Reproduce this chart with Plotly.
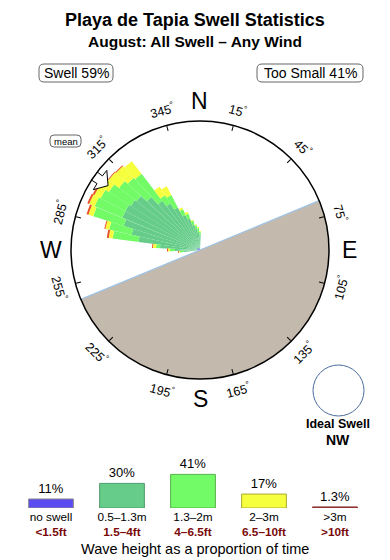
import math
import plotly.graph_objects as go

# ---------------- data ----------------
title_text = "Playa de Tapia Swell Statistics"
subtitle_text = "August: All Swell \u2013 Any Wind"
swell_pct_label = "Swell 59%"
small_pct_label = "Too Small 41%"

# direction bins (degrees, coming-from), 5 degree bins
directions = [265, 270, 275, 280, 285, 290, 295, 300, 305, 310,
              315, 320, 325, 330, 335, 340, 345, 350, 355, 0]
# stacked segment lengths per band (relative frequency units)
no_swell = [0.2, 0.2, 0.3, 0.3, 0.3, 0.3, 0.3, 0.3, 0.3, 0.3,
            0.3, 0.2, 0.2, 0.2, 0.2, 0.2, 0.1, 0.1, 0.1, 0.1]
band_05_13 = [1.4, 2.3, 3.7, 5.9, 6.7, 7.7, 8.1, 8.1, 7.9, 7.7,
              6.9, 6.0, 5.3, 4.6, 3.6, 3.1, 2.5, 2.1, 1.7, 1.4]
band_13_2 = [0.4, 0.5, 0.4, 2.6, 2.3, 3.2, 3.0, 2.8, 2.6, 2.2,
             2.6, 3.4, 1.0, 1.4, 0.6, 0.5, 0.4, 0.3, 0.4, 0.3]
band_2_3 = [0.1, 0.2, 0.3, 0.4, 0.4, 0.5, 0.6, 0.7, 1.0, 1.3,
            1.6, 1.6, 1.0, 1.0, 0.2, 0.2, 0.1, 0.1, 0.1, 0.1]
band_3p = [0.1, 0.1, 0.1, 0.2, 0.1, 0.2, 0.2, 0.2, 0.1, 0.1,
           0.1, 0.0, 0.0, 0.0, 0.0, 0.0, 0.0, 0.0, 0.0, 0.0]
radial_max = 12.9

land_from = 67.5
land_to = 247.5
mean_dir = 305

tick_angles = [15, 45, 75, 105, 135, 165, 195, 225, 255, 285, 315, 345]
cardinals = ["N", "E", "S", "W"]
cardinal_angles = [0, 90, 180, 270]

ideal_label = "Ideal Swell"
ideal_dir = "NW"

legend_names = ["no swell", "0.5\u20131.3m", "1.3\u20132m", "2\u20133m", ">3m"]
legend_feet = ["<1.5ft", "1.5\u20134ft", "4\u20136.5ft", "6.5\u201310ft", ">10ft"]
legend_pct = [11, 30, 41, 17, 1.3]
legend_caption = "Wave height as a proportion of time"

# ---------------- style ----------------
W, H = 390, 560
cx, cy, R = 200, 250, 129
FONT = "Liberation Sans, Arial, sans-serif"
col_blue = "#5b4cf2"
col_dg = "#66cc8a"
col_lg = "#72fb66"
col_yel = "#f6ff3e"
col_red = "#e8532c"
col_land = "#c4b9ad"
col_coast = "#9cc3e6"
band_colors = [col_blue, col_dg, col_lg, col_yel, col_red]
legend_line_colors = ["#8a8a8a", "#4f9a6a", "#55b04a", "#a8a830", "#8b3030"]
legend_fill = [col_blue, col_dg, col_lg, col_yel, "#a03c3c"]

fig = go.Figure()

# land half-disk
fig.add_trace(go.Barpolar(
    r=[radial_max], theta=[(land_from + land_to) / 2], width=[land_to - land_from],
    marker=dict(color=col_land, line=dict(width=0)), showlegend=False, hoverinfo="skip"))
# coastline
fig.add_trace(go.Scatterpolar(
    r=[radial_max, 0, radial_max], theta=[land_from, land_from, land_to],
    mode="lines", line=dict(color=col_coast, width=1.2), showlegend=False, hoverinfo="skip"))

# rose
for vals, c in zip([no_swell, band_05_13, band_13_2, band_2_3, band_3p], band_colors):
    fig.add_trace(go.Barpolar(
        r=vals, theta=directions, width=[5] * len(directions),
        marker=dict(color=c, line=dict(width=0)), showlegend=False))

# mean direction arrow (outline pointer on the rim)
arrow_r = [0.87, 0.95, 0.95, 1.0, 1.0, 0.95, 0.95, 0.87]
arrow_dt = [0, -5.5, -2.2, -2.2, 2.2, 2.2, 5.5, 0]
fig.add_trace(go.Scatterpolar(
    r=[a * radial_max for a in arrow_r], theta=[mean_dir + d for d in arrow_dt],
    mode="lines", fill="toself", fillcolor="white",
    line=dict(color="black", width=1), showlegend=False, hoverinfo="skip"))

fig.update_layout(
    polar=dict(
        domain=dict(x=[(cx - R) / W, (cx + R) / W], y=[(H - cy - R) / H, (H - cy + R) / H]),
        bgcolor="white",
        barmode="stack",
        radialaxis=dict(visible=False, range=[0, radial_max]),
        angularaxis=dict(rotation=90, direction="clockwise", showgrid=False,
                         showline=True, linecolor="black", linewidth=1.5,
                         ticks="inside", ticklen=5, tickcolor="black", tickwidth=1,
                         tickmode="array", tickvals=tick_angles, showticklabels=False),
    )
)

# legend bar chart
fig.add_trace(go.Bar(
    x=legend_names, y=legend_pct, xaxis="x", yaxis="y",
    marker=dict(color=legend_fill, line=dict(color=legend_line_colors, width=1)),
    width=0.63, text=[f"{v:g}%" for v in legend_pct], textposition="outside",
    textfont=dict(size=13, color="black", family=FONT), cliponaxis=False,
    showlegend=False))

ticktext = [f'{n.replace(">", "&gt;")}<br><span style="color:#7a0a0a"><b>{f.replace("<", "&lt;").replace(">", "&gt;")}</b></span>'
            for n, f in zip(legend_names, legend_feet)]
slot = 71
fig.update_layout(
    xaxis=dict(domain=[(51 - slot / 2) / W, (51 + 4.5 * slot) / W], range=[-0.5, 4.5],
               tickmode="array", tickvals=legend_names, ticktext=ticktext,
               showline=False, showgrid=False, zeroline=False, ticks="",
               tickfont=dict(size=11.8, color="black", family=FONT), fixedrange=True),
    yaxis=dict(domain=[(H - 508) / H, (H - 508 + 41) / H], range=[0, 50], visible=False),
)


def A(text, xpx, ypx, size, **kw):
    d = dict(text=text, x=xpx / W, y=1 - ypx / H, xref="paper", yref="paper",
             xanchor="center", yanchor="middle", showarrow=False,
             font=dict(size=size, family=FONT, color="black"))
    d.update(kw)
    return d


def rounded_box(x0, y0, x1, y1, rad=4):
    rx, ry = rad / W, rad / H
    X0, X1 = x0 / W, x1 / W
    Y0, Y1 = 1 - y1 / H, 1 - y0 / H
    p = (f"M {X0 + rx},{Y0} L {X1 - rx},{Y0} Q {X1},{Y0} {X1},{Y0 + ry} "
         f"L {X1},{Y1 - ry} Q {X1},{Y1} {X1 - rx},{Y1} L {X0 + rx},{Y1} "
         f"Q {X0},{Y1} {X0},{Y1 - ry} L {X0},{Y0 + ry} Q {X0},{Y0} {X0 + rx},{Y0} Z")
    return dict(type="path", path=p, xref="paper", yref="paper",
                line=dict(color="#666", width=1), fillcolor="white", layer="below")


ann = []
ann.append(A(f"<b>{title_text}</b>", 195, 20, 18))
ann.append(A(f"<b>{subtitle_text}</b>", 195, 42, 15.5))
ann.append(A(swell_pct_label, 76, 73, 14))
ann.append(A(small_pct_label, 310, 73, 14))
ann.append(A("mean", 65.5, 141, 9.5))
for a in tick_angles:
    rr = R + 16
    xp = cx + rr * math.sin(math.radians(a))
    yp = cy - rr * math.cos(math.radians(a))
    ta = ((a + 180) % 360) - 180 if (a <= 90 or a >= 270) else a - 180
    ann.append(A(f"{a}<sup>\u00b0</sup>", xp, yp, 12.5, textangle=ta))
for lab, a in zip(cardinals, cardinal_angles):
    rr = R + 20
    xp = cx + rr * math.sin(math.radians(a))
    yp = cy - rr * math.cos(math.radians(a))
    ann.append(A(lab, xp, yp, 23))
ann.append(A(f"<b>{ideal_label}</b>", 338, 424, 12.5))
ann.append(A(f"<b>{ideal_dir}</b>", 338, 440, 14))
ann.append(A(legend_caption, 195, 549, 14.5))

shapes = [dict(type="circle", xref="paper", yref="paper",
               x0=313 / W, x1=364 / W, y0=1 - 416 / H, y1=1 - 365 / H,
               line=dict(color="#4a6c9c", width=1)),
          rounded_box(39, 64, 113, 82, 5),
          rounded_box(257, 64, 363, 82, 5),
          rounded_box(50, 135, 81, 147, 4)]

fig.update_layout(
    width=W, height=H, margin=dict(l=0, r=0, t=0, b=0),
    paper_bgcolor="white", plot_bgcolor="white",
    annotations=ann,
    shapes=shapes,
    showlegend=False,
    font=dict(family=FONT),
)

fig.write_html("out.html")
